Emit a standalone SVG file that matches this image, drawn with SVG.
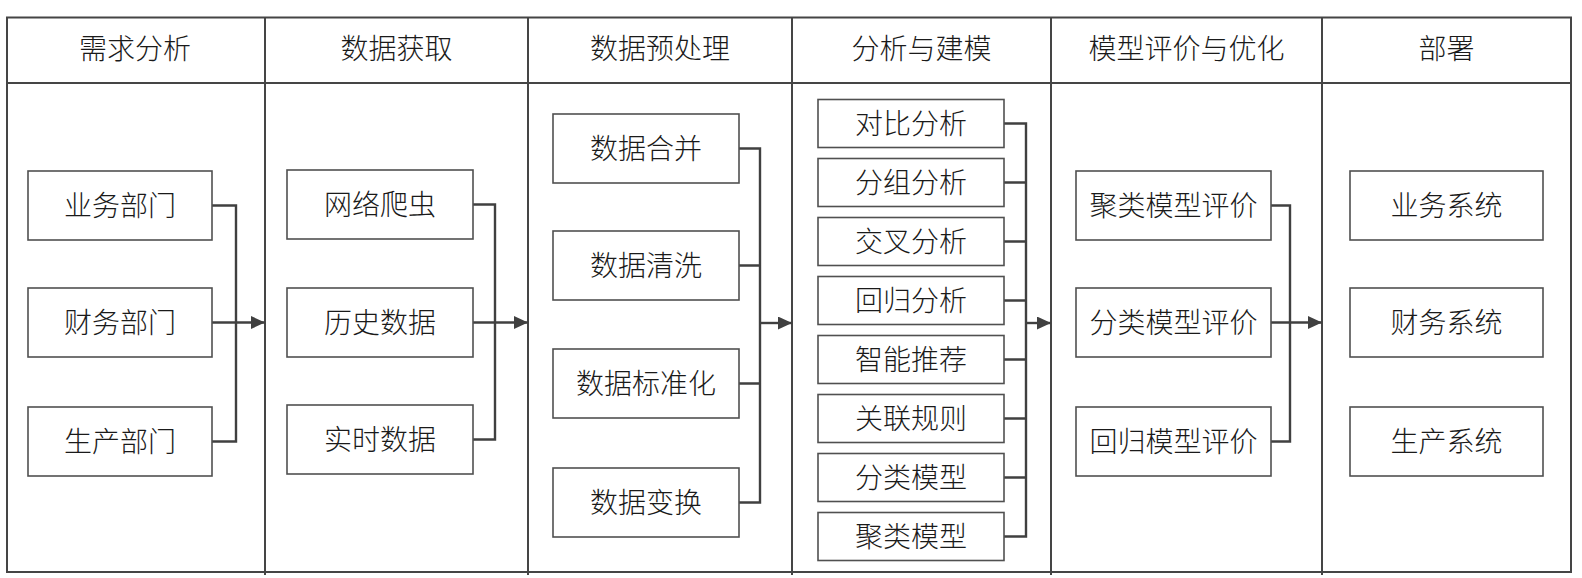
<svg xmlns="http://www.w3.org/2000/svg" width="1582" height="578" viewBox="0 0 1582 578">
<defs>
<style>
.frame{fill:none;stroke:#454545;stroke-width:2}
.box{fill:#fff;stroke:#505050;stroke-width:1.6}
.conn{fill:none;stroke:#404040;stroke-width:2.4}
.t{font-family:"Noto Sans CJK SC","Noto Sans",sans-serif;font-size:28px;font-weight:300;fill:#1a1a1a;text-anchor:middle;dominant-baseline:central}
</style>
<marker id="arr" markerUnits="userSpaceOnUse" markerWidth="15" markerHeight="13" refX="14" refY="6.5" orient="auto">
<path d="M0,0 L14,6.5 L0,13 z" fill="#404040"/>
</marker>
</defs>
<rect width="1582" height="578" fill="#fff"/>
<g id="frame">
<rect class="frame" x="7" y="17.5" width="1564" height="554.5"/>
<line class="frame" x1="7" y1="83" x2="1571" y2="83"/>
<line class="frame" x1="265" y1="17.5" x2="265" y2="575"/>
<line class="frame" x1="528" y1="17.5" x2="528" y2="575"/>
<line class="frame" x1="792" y1="17.5" x2="792" y2="575"/>
<line class="frame" x1="1051" y1="17.5" x2="1051" y2="575"/>
<line class="frame" x1="1322" y1="17.5" x2="1322" y2="575"/>
</g>
<g id="headers">
<text class="t" x="135" y="47">需求分析</text>
<text class="t" x="396.5" y="47">数据获取</text>
<text class="t" x="660" y="47">数据预处理</text>
<text class="t" x="921.5" y="47">分析与建模</text>
<text class="t" x="1186.5" y="47">模型评价与优化</text>
<text class="t" x="1446.5" y="47">部署</text>
</g>
<g id="connectors">
<path class="conn" d="M212 205.5 H236 V441.5 H212"/>
<path class="conn" d="M212 322.5 H265" marker-end="url(#arr)"/>
<path class="conn" d="M473 204.5 H495 V439.5 H473"/>
<path class="conn" d="M473 322.5 H528" marker-end="url(#arr)"/>
<path class="conn" d="M739 148.5 H760 V502.5 H739 M739 265.5 H760 M739 383.5 H760"/>
<path class="conn" d="M760 323 H792" marker-end="url(#arr)"/>
<path class="conn" d="M1004 123.5 H1026 V536.5 H1004 M1004 182.5 H1026 M1004 241.5 H1026 M1004 300.5 H1026 M1004 359.5 H1026 M1004 418.5 H1026 M1004 477.5 H1026"/>
<path class="conn" d="M1026 323 H1051" marker-end="url(#arr)"/>
<path class="conn" d="M1271 205.5 H1290 V441.5 H1271"/>
<path class="conn" d="M1271 322.5 H1322" marker-end="url(#arr)"/>
</g>
<g id="n-yewubumen"><rect class="box" x="28" y="171" width="184" height="69"/><text class="t" x="120" y="203.5">业务部门</text></g>
<g id="n-caiwubumen"><rect class="box" x="28" y="288" width="184" height="69"/><text class="t" x="120" y="320.5">财务部门</text></g>
<g id="n-shengchanbumen"><rect class="box" x="28" y="407" width="184" height="69"/><text class="t" x="120" y="439.5">生产部门</text></g>
<g id="n-wangluopachong"><rect class="box" x="287" y="170" width="186" height="69"/><text class="t" x="380" y="202.5">网络爬虫</text></g>
<g id="n-lishishuju"><rect class="box" x="287" y="288" width="186" height="69"/><text class="t" x="380" y="320.5">历史数据</text></g>
<g id="n-shishishuju"><rect class="box" x="287" y="405" width="186" height="69"/><text class="t" x="380" y="437.5">实时数据</text></g>
<g id="n-hebing"><rect class="box" x="553" y="114" width="186" height="69"/><text class="t" x="646" y="146.5">数据合并</text></g>
<g id="n-qingxi"><rect class="box" x="553" y="231" width="186" height="69"/><text class="t" x="646" y="263.5">数据清洗</text></g>
<g id="n-biaozhunhua"><rect class="box" x="553" y="349" width="186" height="69"/><text class="t" x="646" y="381.5">数据标准化</text></g>
<g id="n-bianhuan"><rect class="box" x="553" y="468" width="186" height="69"/><text class="t" x="646" y="500.5">数据变换</text></g>
<g id="n-duibi"><rect class="box" x="818" y="99.5" width="186" height="48"/><text class="t" x="911" y="121.5">对比分析</text></g>
<g id="n-fenzu"><rect class="box" x="818" y="158.5" width="186" height="48"/><text class="t" x="911" y="180.5">分组分析</text></g>
<g id="n-jiaocha"><rect class="box" x="818" y="217.5" width="186" height="48"/><text class="t" x="911" y="239.5">交叉分析</text></g>
<g id="n-huigui"><rect class="box" x="818" y="276.5" width="186" height="48"/><text class="t" x="911" y="298.5">回归分析</text></g>
<g id="n-tuijian"><rect class="box" x="818" y="335.5" width="186" height="48"/><text class="t" x="911" y="357.5">智能推荐</text></g>
<g id="n-guanlian"><rect class="box" x="818" y="394.5" width="186" height="48"/><text class="t" x="911" y="416.5">关联规则</text></g>
<g id="n-fenlei"><rect class="box" x="818" y="453.5" width="186" height="48"/><text class="t" x="911" y="475.5">分类模型</text></g>
<g id="n-julei"><rect class="box" x="818" y="512.5" width="186" height="48"/><text class="t" x="911" y="534.5">聚类模型</text></g>
<g id="n-juleipingjia"><rect class="box" x="1076" y="171" width="195" height="69"/><text class="t" x="1173.5" y="203.5">聚类模型评价</text></g>
<g id="n-fenleipingjia"><rect class="box" x="1076" y="288" width="195" height="69"/><text class="t" x="1173.5" y="320.5">分类模型评价</text></g>
<g id="n-huiguipingjia"><rect class="box" x="1076" y="407" width="195" height="69"/><text class="t" x="1173.5" y="439.5">回归模型评价</text></g>
<g id="n-yewuxitong"><rect class="box" x="1350" y="171" width="193" height="69"/><text class="t" x="1446.5" y="203.5">业务系统</text></g>
<g id="n-caiwuxitong"><rect class="box" x="1350" y="288" width="193" height="69"/><text class="t" x="1446.5" y="320.5">财务系统</text></g>
<g id="n-shengchanxitong"><rect class="box" x="1350" y="407" width="193" height="69"/><text class="t" x="1446.5" y="439.5">生产系统</text></g>
</svg>
